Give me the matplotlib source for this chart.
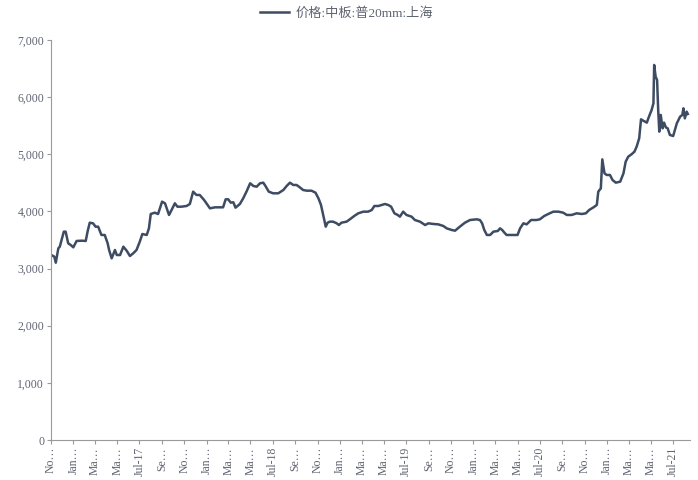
import matplotlib.pyplot as plt
import pandas as pd

dates = [
    "2016-11-01", "2016-11-10", "2016-11-14", "2016-11-21", "2016-11-25", "2016-11-30",
    "2016-12-06", "2016-12-11", "2016-12-18", "2016-12-25", "2017-01-01", "2017-01-10",
    "2017-01-24", "2017-02-04", "2017-02-09", "2017-02-15", "2017-02-24", "2017-03-03",
    "2017-03-10", "2017-03-19", "2017-03-28", "2017-04-05", "2017-04-09", "2017-04-16",
    "2017-04-25", "2017-04-30", "2017-05-09", "2017-05-18", "2017-05-27", "2017-06-05",
    "2017-06-14", "2017-06-23", "2017-07-02", "2017-07-09", "2017-07-21", "2017-07-27",
    "2017-08-01", "2017-08-12", "2017-08-21", "2017-09-01", "2017-09-09", "2017-09-20",
    "2017-09-27", "2017-10-06", "2017-10-13", "2017-10-24", "2017-11-07", "2017-11-16",
    "2017-11-25", "2017-12-04", "2017-12-13", "2017-12-25", "2018-01-10", "2018-01-24",
    "2018-02-15", "2018-02-22", "2018-03-01", "2018-03-08", "2018-03-15", "2018-03-21",
    "2018-04-02", "2018-04-11", "2018-04-20", "2018-04-30", "2018-05-09", "2018-05-18",
    "2018-05-27", "2018-06-05", "2018-06-11", "2018-06-20", "2018-07-02", "2018-07-16",
    "2018-07-30", "2018-08-08", "2018-08-17", "2018-08-26", "2018-09-04", "2018-09-13",
    "2018-09-22", "2018-10-02", "2018-10-15", "2018-10-26", "2018-11-03", "2018-11-10",
    "2018-11-16", "2018-11-23", "2018-11-28", "2018-12-04", "2018-12-13", "2018-12-23",
    "2018-12-29", "2019-01-05", "2019-01-19", "2019-01-28", "2019-02-09", "2019-02-20",
    "2019-03-06", "2019-03-19", "2019-03-29", "2019-04-05", "2019-04-16", "2019-04-25",
    "2019-05-04", "2019-05-13", "2019-05-21", "2019-05-30", "2019-06-08", "2019-06-14",
    "2019-06-23", "2019-07-02", "2019-07-16", "2019-07-25", "2019-08-08", "2019-08-22",
    "2019-08-31", "2019-09-14", "2019-09-27", "2019-10-11", "2019-10-20", "2019-11-03",
    "2019-11-12", "2019-11-25", "2019-12-09", "2019-12-23", "2020-01-10", "2020-01-19",
    "2020-01-25", "2020-01-31", "2020-02-07", "2020-02-16", "2020-02-25", "2020-03-08",
    "2020-03-14", "2020-03-20", "2020-03-26", "2020-04-01", "2020-04-15", "2020-05-01",
    "2020-05-08", "2020-05-17", "2020-05-26", "2020-06-07", "2020-06-22", "2020-07-01",
    "2020-07-13", "2020-07-24", "2020-08-07", "2020-08-21", "2020-09-03", "2020-09-13",
    "2020-09-26", "2020-10-10", "2020-10-24", "2020-11-04", "2020-11-13", "2020-11-25",
    "2020-12-04", "2020-12-08", "2020-12-15", "2020-12-19", "2020-12-25", "2020-12-31",
    "2021-01-09", "2021-01-16", "2021-01-25", "2021-02-06", "2021-02-15", "2021-02-21",
    "2021-02-28", "2021-03-10", "2021-03-17", "2021-03-23", "2021-03-30", "2021-04-04",
    "2021-04-10", "2021-04-20", "2021-04-24", "2021-05-03", "2021-05-08", "2021-05-10",
    "2021-05-14", "2021-05-18", "2021-05-21", "2021-05-24", "2021-05-28", "2021-06-02",
    "2021-06-06", "2021-06-11", "2021-06-16", "2021-06-22", "2021-07-01", "2021-07-11",
    "2021-07-20", "2021-07-26", "2021-07-29", "2021-08-02", "2021-08-07", "2021-08-10",
]
prices = [
    3240, 3208, 3103, 3354, 3383, 3500,
    3646, 3646, 3442, 3412, 3372, 3483,
    3488, 3483, 3646, 3803, 3792, 3733,
    3733, 3588, 3588, 3442, 3325, 3179,
    3325, 3237, 3237, 3383, 3313, 3220,
    3267, 3325, 3471, 3605, 3588, 3704,
    3955, 3978, 3955, 4171, 4142, 3938,
    4025, 4142, 4083, 4083, 4095, 4130,
    4346, 4288, 4288, 4200, 4054, 4072,
    4072, 4212, 4212, 4154, 4160, 4066,
    4130, 4229, 4346, 4492, 4445, 4433,
    4492, 4503, 4445, 4346, 4317, 4317,
    4375, 4445, 4503, 4463, 4463, 4422,
    4375, 4363, 4363, 4328, 4229, 4113,
    3938, 3733, 3803, 3821, 3821, 3792,
    3762, 3803, 3821, 3862, 3920, 3967,
    3996, 3996, 4025, 4095, 4095, 4113,
    4130, 4113, 4083, 3967, 3938, 3908,
    3996, 3938, 3908, 3850, 3821, 3762,
    3792, 3780, 3774, 3745, 3704, 3675,
    3663, 3733, 3803, 3850, 3862, 3850,
    3792, 3675, 3588, 3588, 3646, 3658,
    3704, 3675, 3629, 3588, 3588, 3588,
    3704, 3792, 3774, 3850, 3850, 3862,
    3920, 3955, 3996, 3996, 3978, 3938,
    3938, 3967, 3955, 3967, 4025, 4072,
    4113, 4346, 4404, 4911, 4667, 4638,
    4638, 4550, 4503, 4521, 4667, 4871,
    4958, 5005, 5046, 5133, 5279, 5612,
    5588, 5554, 5629, 5775, 5892, 6563,
    6358, 6300, 5775, 5396, 5688, 5454,
    5554, 5471, 5454, 5338, 5320, 5542,
    5658, 5688, 5804, 5629, 5746, 5705,
]

tick_dates = pd.date_range("2016-11-01", "2021-07-01", freq="2MS")
tick_labels = ["No…", "Jan…", "Ma…", "Ma…", "Jul-17", "Se…"] * 5
tick_labels = tick_labels[:len(tick_dates)]
for i, d in enumerate(tick_dates):
    if d.month == 7:
        tick_labels[i] = d.strftime("Jul-%y")

line_color = "#3d4b63"
text_color = "#5f6472"

fig = plt.figure(figsize=(6.98, 4.8), dpi=100)
ax = fig.add_axes([0.0731, 0.0833, 0.9154, 0.8334])

ax.plot(pd.to_datetime(dates), prices, color=line_color, lw=1.8,
        label="价格:中板:普20mm:上海")

ax.set_ylim(0, 7000)
ax.set_yticks(range(0, 7001, 1000))
ax.set_yticklabels([f"{v:,}" for v in range(0, 7001, 1000)],
                   family="Liberation Serif", fontsize=8.5, color=text_color)
ax.set_xlim(pd.Timestamp("2016-11-01"), pd.Timestamp("2021-08-16"))
ax.set_xticks(tick_dates)
ax.set_xticklabels(tick_labels, rotation=90, family="Liberation Serif",
                   fontsize=8.5, color=text_color)

for s in ["top", "right"]:
    ax.spines[s].set_visible(False)
for s in ["left", "bottom"]:
    ax.spines[s].set_color("#9a9a9a")
    ax.spines[s].set_linewidth(0.8)
ax.tick_params(axis="both", length=3, width=0.8, color="#9a9a9a", pad=2)

handles, labels = ax.get_legend_handles_labels()
leg = fig.legend(handles, labels, loc="upper center", bbox_to_anchor=(0.497, 1.01),
                 frameon=False, handlelength=2.2, handletextpad=0.5,
                 prop={"family": ["Liberation Serif", "Noto Sans CJK SC"], "size": 9.5})
for t in leg.get_texts():
    t.set_color(text_color)

fig.savefig("out.png", dpi=100)
